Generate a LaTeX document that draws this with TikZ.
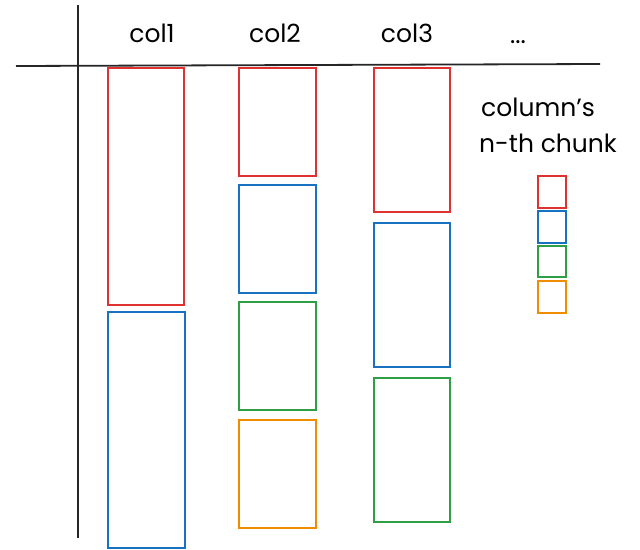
\documentclass[tikz,border=0pt]{standalone}
\usepackage{fontspec}
\setmainfont{Poppins}
\definecolor{cred}{HTML}{E03131}
\definecolor{cblue}{HTML}{1971C2}
\definecolor{cgreen}{HTML}{2F9E44}
\definecolor{corange}{HTML}{F08C00}
\begin{document}
\begin{tikzpicture}[x=1pt,y=-1pt,
  chunk/.style={draw, line width=1.6pt, inner sep=0pt, outer sep=0pt},
  lbl/.style={font=\fontsize{25}{30}\selectfont, inner sep=0pt},
  axis/.style={line width=1.8pt, black!85}]
\useasboundingbox (0,0) rectangle (640,549);
% axes
\coordinate (vt) at (78,5);
\coordinate (vb) at (78,538);
\coordinate (hl) at (16,66);
\coordinate (hr) at (600,64);
\draw[axis] (vt) -- (vb);
\draw[axis] (hl) -- (hr);
% headers
\node[lbl] (h1) at (152,33) {col1};
\node[lbl] (h2) at (275,33) {col2};
\node[lbl] (h3) at (407,33) {col3};
\node[lbl, anchor=base] (h4) at (518,43) {...};
% col1
\node[chunk, draw=cred, minimum width=76, minimum height=237] (c1a) at (146,186.5) {};
\node[chunk, draw=cblue, minimum width=77, minimum height=236] (c1b) at (146.5,430) {};
% col2
\node[chunk, draw=cred, minimum width=77, minimum height=108] (c2a) at (277.5,122) {};
\node[chunk, draw=cblue, minimum width=77, minimum height=108] (c2b) at (277.5,239) {};
\node[chunk, draw=cgreen, minimum width=77, minimum height=108] (c2c) at (277.5,356) {};
\node[chunk, draw=corange, minimum width=77, minimum height=108] (c2d) at (277.5,474) {};
% col3
\node[chunk, draw=cred, minimum width=76, minimum height=144] (c3a) at (412,140) {};
\node[chunk, draw=cblue, minimum width=76, minimum height=144] (c3b) at (412,295) {};
\node[chunk, draw=cgreen, minimum width=76, minimum height=144] (c3c) at (412,450) {};
% legend
\node[lbl, anchor=west] (t1) at (481,107) {column\char"0027 s};
\node[lbl, anchor=west] (t2) at (479,143) {n-th chunk};
\node[chunk, draw=cred, minimum width=28, minimum height=32] (l1) at (552,192) {};
\node[chunk, draw=cblue, minimum width=28, minimum height=32] (l2) at (552,227) {};
\node[chunk, draw=cgreen, minimum width=28, minimum height=31] (l3) at (552,261.5) {};
\node[chunk, draw=corange, minimum width=28, minimum height=32] (l4) at (552,297) {};
\end{tikzpicture}
\end{document}
